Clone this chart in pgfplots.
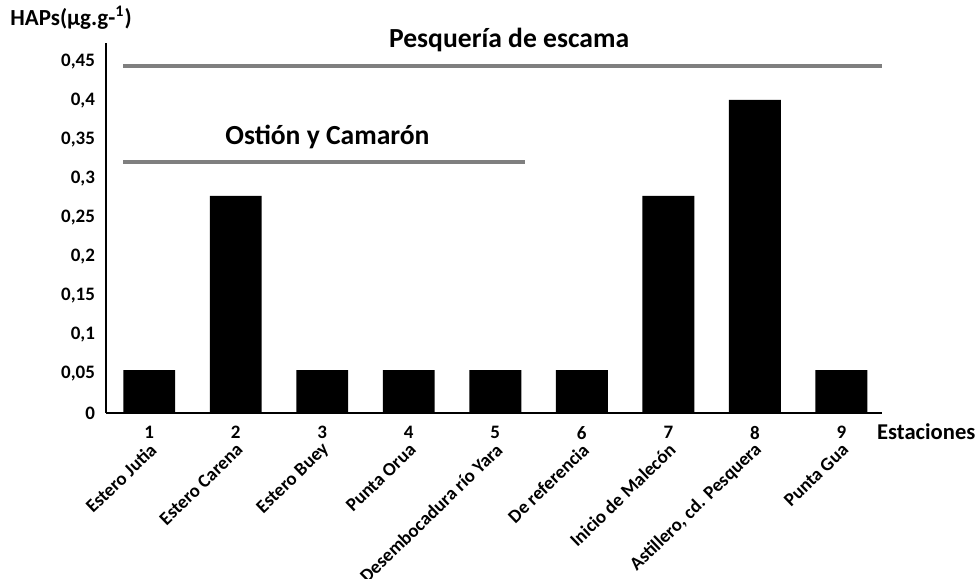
\documentclass[border=0pt]{standalone}
\usepackage{pgfplots}
\pgfplotsset{compat=1.18}
\usetikzlibrary{calc}
\usepackage{fontspec}
\setmainfont{Carlito}
\definecolor{linegray}{HTML}{7F7F7F}
\begin{document}
\begin{tikzpicture}
\begin{axis}[
  scale only axis, width=388pt, height=185pt,
  xmin=0.5, xmax=9.47, ymin=0, ymax=0.474,
  axis lines=left, axis line style={-, line width=1pt, black},
  major tick length=0pt,
  ytick={0,0.05,0.1,0.15,0.2,0.25,0.3,0.35,0.4,0.45},
  yticklabels={0,{0,05},{0,1},{0,15},{0,2},{0,25},{0,3},{0,35},{0,4},{0,45}},
  xtick={1,2,3,4,5,6,7,8,9},
  xticklabels={1,2,3,4,5,6,7,8,9},
  tick label style={font=\bfseries\fontsize{9.5}{11}\selectfont},
  yticklabel style={xshift=-2pt},
  xticklabel style={yshift=-3pt},
  extra x ticks={1,2,3,4,5,6,7,8,9},
  extra x tick labels={Estero Jutia,Estero Carena,Estero Buey,Punta Orua,Desembocadura río Yara,De referencia,Inicio de Malecón,{Astillero, cd. Pesquera},Punta Gua},
  extra x tick style={xticklabel style={xshift=4.5pt, yshift=-1.5pt, rotate=44, anchor=east, font=\bfseries\fontsize{9.4}{11}\selectfont}, xticklabel shift=10pt},
  clip=false,
]
\addplot[ybar, bar width=0.6, fill=black, draw=none] coordinates {
 (1,0.055) (2,0.278) (3,0.055) (4,0.055) (5,0.055) (6,0.055) (7,0.278) (8,0.401) (9,0.055)};
\addplot[linegray, line width=2pt, mark=none] coordinates {(0.7,0.445) (9.47,0.445)};
\addplot[linegray, line width=2pt, mark=none] coordinates {(0.7,0.322) (5.34,0.322)};
\node[font=\bfseries\fontsize{13.8}{16}\selectfont] at (axis cs:5.16,0.478) {Pesquería de escama};
\node[font=\bfseries\fontsize{13.8}{16}\selectfont] at (axis cs:3.06,0.353) {Ostión y Camarón};
\node[font=\bfseries\fontsize{11.5}{13}\selectfont] at (rel axis cs:-0.045,1.068) {HAPs(µg.g-\textsuperscript{1})};
\node[font=\bfseries\fontsize{11.3}{13}\selectfont] at (rel axis cs:1.057,-0.051) {Estaciones};
\coordinate (sw) at (rel axis cs:0,0);
\coordinate (ne) at (rel axis cs:1,1);
\end{axis}
\pgfresetboundingbox
\path[use as bounding box] ($(sw)+(-53pt,-83pt)$) rectangle ($(ne)+(48pt,21.5pt)$);
\end{tikzpicture}
\end{document}
